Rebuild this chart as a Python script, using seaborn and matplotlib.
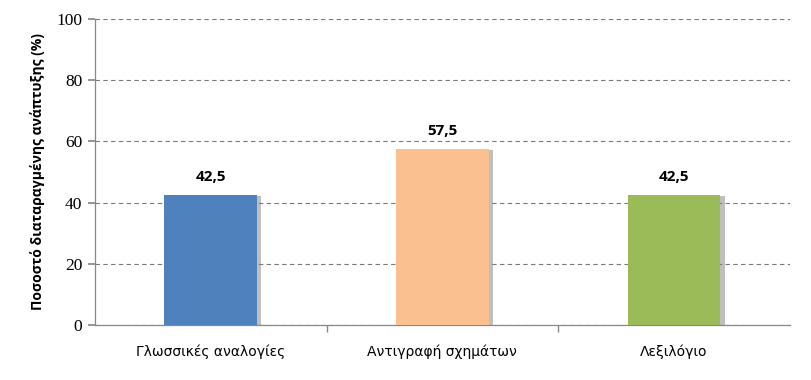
import matplotlib
matplotlib.use("Agg")
import matplotlib.pyplot as plt
import matplotlib.patheffects as pe
import seaborn as sns
import pandas as pd

categories = ["Γλωσσικές αναλογίες", "Αντιγραφή σχημάτων", "Λεξιλόγιο"]
values = [42.5, 57.5, 42.5]
labels = ["42,5", "57,5", "42,5"]
colors = ["#4F81BD", "#FAC090", "#9BBB59"]
yticks = [0, 20, 40, 60, 80, 100]

sns.set_theme(style="white")
plt.rcParams['font.family'] = ['DejaVu Sans']
plt.rcParams['text.color'] = 'black'
plt.rcParams['axes.labelcolor'] = 'black'
plt.rcParams['xtick.color'] = 'black'
plt.rcParams['ytick.color'] = 'black'

df = pd.DataFrame({"cat": categories, "val": values})

fig = plt.figure(figsize=(8.11, 3.8), dpi=100)
ax = fig.add_axes([0.117, 0.145, 0.857, 0.805])

sns.barplot(data=df, x="cat", y="val", hue="cat", palette=colors, width=0.4,
            legend=False, ax=ax, saturation=1)

for p in ax.patches:
    p.set_edgecolor("none")
    p.set_path_effects([pe.SimplePatchShadow(offset=(3, -1), shadow_rgbFace="#808080", alpha=0.5),
                        pe.Normal()])
    p.set_zorder(3)

ax.set_ylim(0, 100)
ax.set_xlim(-0.5, 2.5)
ax.set_yticks(yticks)
ax.set_yticklabels([str(t) for t in yticks], family="Liberation Serif", fontsize=12.5,
                   color="black")
ax.yaxis.grid(True, linestyle=(0, (4, 3)), color="#7a7a7a", linewidth=0.8)
ax.set_axisbelow(True)

for s in ["top", "right"]:
    ax.spines[s].set_visible(False)
for s in ["left", "bottom"]:
    ax.spines[s].set_color("#888888")
    ax.spines[s].set_linewidth(0.9)

ax.tick_params(axis="y", length=5, color="#888888", direction="out", left=True, pad=4)
ax.set_xticks([0, 1, 2])
ax.set_xticklabels(categories, fontsize=10, family="DejaVu Sans", color="black")
ax.tick_params(axis="x", length=0, pad=14)
# category boundary ticks
ax.set_xticks([0.5, 1.5], minor=True)
ax.tick_params(axis="x", which="minor", length=5, color="#888888", direction="out", bottom=True)

ax.set_xlabel("")
ax.set_ylabel("Ποσοστό διαταραγμένης ανάπτυξης (%)", fontsize=10, fontweight="bold",
              family="Open Sans", labelpad=8, color="black")

for i, (v, l) in enumerate(zip(values, labels)):
    ax.text(i, v + 3.5, l, ha="center", va="bottom", fontsize=11, fontweight="bold",
            family="Open Sans", color="black")

fig.savefig("out.png", dpi=100)
